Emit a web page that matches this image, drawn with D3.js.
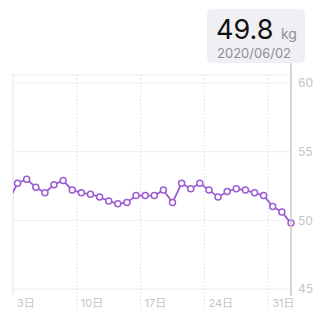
<!DOCTYPE html>
<html>
<head>
<meta charset="utf-8">
<script src="https://cdn.jsdelivr.net/npm/d3@7"></script>
<style>
  html, body { margin: 0; padding: 0; background: #fff; }
  svg { display: block; font-family: "Inter", "Noto Sans CJK JP", sans-serif; }
</style>
</head>
<body>
<div id="chart"></div>
<script>
// Daily weight, 2 May .. 2 June 2020 (first point is clipped at the left edge)
const dates = [
  "2020-05-02", "2020-05-03", "2020-05-04", "2020-05-05", "2020-05-06", "2020-05-07",
  "2020-05-08", "2020-05-09", "2020-05-10", "2020-05-11", "2020-05-12", "2020-05-13",
  "2020-05-14", "2020-05-15", "2020-05-16", "2020-05-17", "2020-05-18", "2020-05-19",
  "2020-05-20", "2020-05-21", "2020-05-22", "2020-05-23", "2020-05-24", "2020-05-25",
  "2020-05-26", "2020-05-27", "2020-05-28", "2020-05-29", "2020-05-30", "2020-05-31",
  "2020-06-01", "2020-06-02"
];
const weights = [
  51.4, 52.7, 53.0, 52.4, 52.0, 52.6,
  52.9, 52.2, 52.0, 51.9, 51.7, 51.4,
  51.2, 51.3, 51.8, 51.8, 51.8, 52.2,
  51.3, 52.7, 52.3, 52.7, 52.2, 51.7,
  52.1, 52.3, 52.2, 52.0, 51.8, 51.0,
  50.6, 49.8
];
const yTicks = [45, 50, 55, 60];
const xTickDays = ["2020-05-03", "2020-05-10", "2020-05-17", "2020-05-24", "2020-05-31"];
const selected = { value: "49.8", unit: "kg", date: "2020/06/02" };

const width = 320, height = 320;
const plotLeft = 13, plotRight = 291, plotTop = 75, plotBottom = 296;

const parse = d3.timeParse("%Y-%m-%d");
// points sit at noon of their day, gridlines at midnight
const data = dates.map((d, i) => ({ date: d3.timeHour.offset(parse(d), 12), value: weights[i] }));

const svg = d3.select("#chart").append("svg")
    .attr("width", width)
    .attr("height", height);

const x = d3.scaleTime()
    .domain([parse("2020-05-03"), d3.timeHour.offset(parse("2020-06-02"), 12)])
    .range([plotLeft, plotRight]);

const y = d3.scaleLinear()
    .domain([45, 60])
    .range([289, 83]);

// top border and left edge
svg.append("line")
    .attr("x1", plotLeft).attr("x2", plotRight)
    .attr("y1", plotTop).attr("y2", plotTop)
    .attr("stroke", "#ececec");
svg.append("line")
    .attr("x1", plotLeft).attr("x2", plotLeft)
    .attr("y1", 73).attr("y2", plotBottom)
    .attr("stroke", "#e6e6e6");

// horizontal grid + labels
svg.append("g").selectAll("line")
    .data(yTicks)
    .enter()
    .append("line")
    .attr("x1", plotLeft).attr("x2", plotRight)
    .attr("y1", d => y(d)).attr("y2", d => y(d))
    .attr("stroke", "#ececec");

svg.append("g").selectAll("text")
    .data(yTicks)
    .enter()
    .append("text")
    .attr("x", 298)
    .attr("y", d => y(d))
    .attr("dy", "0.35em")
    .text(d => d)
    .style("font-size", "12px")
    .style("fill", "#c4c4c8");

// dotted day gridlines + labels
const dayTicks = xTickDays.map(parse);
svg.append("g").selectAll("line")
    .data(dayTicks.slice(1))
    .enter()
    .append("line")
    .attr("x1", d => x(d)).attr("x2", d => x(d))
    .attr("y1", plotTop).attr("y2", 313)
    .attr("stroke", "#dcdcdc")
    .attr("stroke-dasharray", "1.5,2");

svg.append("g").selectAll("text")
    .data(dayTicks)
    .enter()
    .append("text")
    .attr("x", d => x(d) + 4)
    .attr("y", 303)
    .attr("dy", "0.35em")
    .text(d => d.getDate() + "日")
    .style("font-size", "11px")
    .style("fill", "#c4c4c8");

// clip the line to the plot
svg.append("clipPath").attr("id", "plot-clip")
    .append("rect")
    .attr("x", plotLeft).attr("y", plotTop)
    .attr("width", plotRight - plotLeft + 6).attr("height", plotBottom - plotTop);

const plot = svg.append("g").attr("clip-path", "url(#plot-clip)");

const line = d3.line()
    .x(d => x(d.date))
    .y(d => y(d.value));

// cursor line for selected day
const last = data[data.length - 1];
svg.append("line")
    .attr("x1", x(last.date)).attr("x2", x(last.date))
    .attr("y1", 60).attr("y2", plotBottom)
    .attr("stroke", "#c8c8cc")
    .attr("stroke-width", 1.5);

plot.append("path")
    .datum(data)
    .attr("fill", "none")
    .attr("stroke", "#9c5dd3")
    .attr("stroke-width", 1.8)
    .attr("d", line);

plot.append("g").selectAll("circle")
    .data(data)
    .enter()
    .append("circle")
    .attr("cx", d => x(d.date))
    .attr("cy", d => y(d.value))
    .attr("r", 3)
    .attr("fill", "#fff")
    .attr("stroke", "#9c5dd3")
    .attr("stroke-width", 1.5);

// tooltip box
const tip = svg.append("g");
tip.append("rect")
    .attr("x", 207).attr("y", 9)
    .attr("width", 98).attr("height", 54)
    .attr("rx", 5)
    .attr("fill", "#f0f0f4");
tip.append("text")
    .attr("x", 216).attr("y", 39)
    .text(selected.value)
    .style("font-size", "27px")
    .style("fill", "#111");
tip.append("text")
    .attr("x", 281).attr("y", 39)
    .text(selected.unit)
    .style("font-size", "14px")
    .style("fill", "#8e8e93");
tip.append("text")
    .attr("x", 217).attr("y", 58)
    .text(selected.date)
    .style("font-size", "13px")
    .style("fill", "#8e8e93");
</script>
</body>
</html>
